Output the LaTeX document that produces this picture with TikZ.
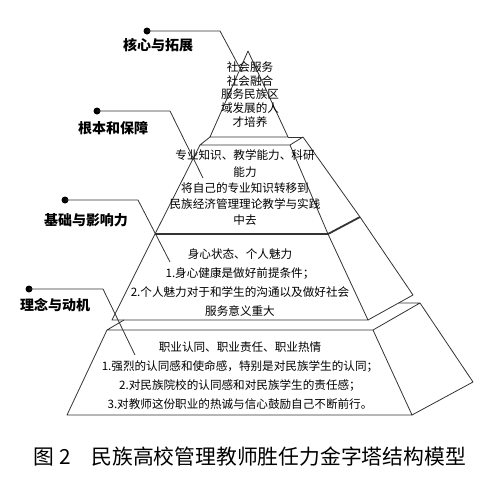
\documentclass[tikz,border=0pt]{standalone}
\usepackage{fontspec}
\setmainfont{Noto Sans CJK SC}

\tikzset{
  edge/.style={draw=black!80, line width=0.8pt, line join=round},
  dot/.style={circle, fill=black, inner sep=0pt, minimum size=7pt},
  tag/.style={font=\fontsize{14}{16}\selectfont\bfseries},
  body/.style={align=center, font=\fontsize{11.6}{#1}\selectfont},
}

\begin{document}
\begin{tikzpicture}[x=1pt,y=-1pt,line width=0.8pt]
    \useasboundingbox (0,0) rectangle (485,482);

    % Top triangle
    \draw[edge] (248,51) -- (210,137) -- (288,137) -- cycle;
    \draw[edge] (288,137) -- (303,137);

    % Second layer
    \draw[edge] (210,137) -- (200,145) -- (290,145) -- (303,137);
    \draw[edge] (200,145) -- (155,234);
    \draw[edge] (290,145) -- (328,234);
    \draw[edge] (303,137) -- (360,217);
    \draw[edge, line width=1.8pt] (155,234) -- (328,234) -- (360,217);

    % Third layer
    \draw[edge] (155,234) -- (112,320) -- (368,320) -- (328,234);
    \draw[edge] (360,217) -- (413,295) -- (368,320);

    % Bottom layer
    \draw[edge] (124,320) -- (107,330) -- (373,330) -- (420,303) -- (399,303);
    \draw[edge] (107,330) -- (67,415) -- (412,415) -- (373,330);
    \draw[edge] (420,303) -- (473,382) -- (412,415);

    % Layer texts
    \node[body=13.75] (top) at (250,94.5) {社会服务\\社会融合\\服务民族区\\域发展的人\\才培养};
    \node[body=16.25] (second) at (245,188) {专业知识、教学能力、科研\\能力\\将自己的专业知识转移到\\民族经济管理理论教学与实践\\中去};
    \node[body=19] (third) at (240,283) {身心状态、个人魅力\\1.身心健康是做好前提条件；\\2.个人魅力对于和学生的沟通以及做好社会\\服务意义重大};
    \node[body=19] (base) at (240,376) {职业认同、职业责任、职业热情\\1.强烈的认同感和使命感，特别是对民族学生的认同；\\2.对民族院校的认同感和对民族学生的责任感；\\3.对教师这份职业的热诚与信心鼓励自己不断前行。};

    % Side labels with leaders
    \node[dot] (d1) at (147,31) {};
    \node[dot] (d2) at (97,111) {};
    \node[dot] (d3) at (65,200) {};
    \node[dot] (d4) at (29,289) {};
    \node[tag] (core) at (158,45) {核心与拓展};
    \node[tag] (root) at (113,128) {根本和保障};
    \node[tag] (basis) at (86,220) {基础与影响力};
    \node[tag] (idea) at (55,305) {理念与动机};

    \coordinate (k1) at (220,31);  \coordinate (e1) at (242,72);
    \coordinate (k2) at (170,111); \coordinate (e2) at (203,178);
    \coordinate (k3) at (138,200); \coordinate (e3) at (170,262);
    \coordinate (k4) at (103,289); \coordinate (e4) at (135,355);
    \draw[edge] (d1.center) -- (k1) -- (e1);
    \draw[edge] (d2.center) -- (k2) -- (e2);
    \draw[edge] (d3.center) -- (k3) -- (e3);
    \draw[edge] (d4.center) -- (k4) -- (e4);

    % Caption
    \node[anchor=west, font=\fontsize{20.8}{24}\selectfont] (cap) at (30,457) {图~2\hspace{1em}民族高校管理教师胜任力金字塔结构模型};

\end{tikzpicture}
\end{document}
